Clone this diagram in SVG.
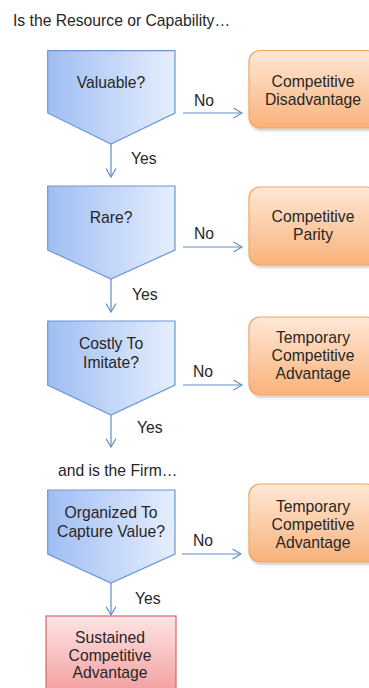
<svg xmlns="http://www.w3.org/2000/svg" width="369" height="688" viewBox="0 0 369 688">
<defs>
<linearGradient id="gBlue" x1="0" y1="0" x2="1" y2="0">
<stop offset="0" stop-color="#9fbef3"/>
<stop offset="1" stop-color="#e6eefd"/>
</linearGradient>
<linearGradient id="gOrange" x1="0" y1="0" x2="0" y2="1">
<stop offset="0" stop-color="#fee8d6"/>
<stop offset="1" stop-color="#f9b27a"/>
</linearGradient>
<linearGradient id="gRed" x1="0" y1="0" x2="0" y2="1">
<stop offset="0" stop-color="#fee4e4"/>
<stop offset="1" stop-color="#f39c9c"/>
</linearGradient>
<filter id="sh" x="-10%" y="-10%" width="130%" height="130%">
<feDropShadow dx="1.5" dy="2" stdDeviation="1.5" flood-color="#000" flood-opacity="0.22"/>
</filter>
<marker id="arr" viewBox="0 0 10 12" refX="9.5" refY="6" markerWidth="10" markerHeight="12" markerUnits="userSpaceOnUse" orient="auto">
<path d="M1,1 L9.5,6 L1,11" fill="none" stroke="#5f8bcb" stroke-width="1.2"/>
</marker>
</defs>
<style>
text{font-family:"Liberation Sans",Arial,sans-serif;font-size:15.7px;fill:#262626}
.c{text-anchor:middle}
.pent{fill:url(#gBlue);stroke:#6d97d4;stroke-width:1.2}
.ora{fill:url(#gOrange);stroke:#f2a560;stroke-width:1.2;filter:url(#sh)}
.red{fill:url(#gRed);stroke:#d8676b;stroke-width:1.2}
.ln{fill:none;stroke:#5f8bcb;stroke-width:1.2;marker-end:url(#arr)}
</style>
<text x="13" y="26">Is the Resource or Capability…</text>
<text x="58" y="476">and is the Firm…</text>
<g id="connectors">
<line class="ln" x1="111" y1="144" x2="111" y2="177"/>
<line class="ln" x1="183" y1="113" x2="242" y2="113"/>
<line class="ln" x1="111" y1="279" x2="111" y2="312"/>
<line class="ln" x1="183" y1="247" x2="242" y2="247"/>
<line class="ln" x1="111" y1="415" x2="111" y2="447"/>
<line class="ln" x1="183" y1="385" x2="242" y2="385"/>
<line class="ln" x1="111" y1="583" x2="111" y2="615"/>
<line class="ln" x1="182" y1="554" x2="241" y2="554"/>
<text x="194" y="106">No</text>
<text x="131" y="164">Yes</text>
<text x="194" y="239">No</text>
<text x="132" y="300">Yes</text>
<text x="193" y="377">No</text>
<text x="137" y="433">Yes</text>
<text x="193" y="546">No</text>
<text x="135" y="604">Yes</text>
</g>
<g id="valuable">
<path class="pent" d="M47.7,50.7 H175 V113 L111,144 L47.7,113 Z"/>
<text class="c" x="111" y="88">Valuable?</text>
</g>
<g id="disadvantage">
<rect class="ora" x="249" y="50.5" width="128" height="77.5" rx="11"/>
<text class="c" x="313" y="87">Competitive</text>
<text class="c" x="313" y="105">Disadvantage</text>
</g>
<g id="rare">
<path class="pent" d="M47.7,186 H175 V250 L111,279 L47.7,250 Z"/>
<text class="c" x="111" y="223">Rare?</text>
</g>
<g id="parity">
<rect class="ora" x="249" y="187" width="128" height="78" rx="11"/>
<text class="c" x="313" y="222">Competitive</text>
<text class="c" x="313" y="240">Parity</text>
</g>
<g id="costly">
<path class="pent" d="M47.7,321 H175 V385 L111,415 L47.7,385 Z"/>
<text class="c" x="111" y="349">Costly To</text>
<text class="c" x="111" y="368">Imitate?</text>
</g>
<g id="temporary1">
<rect class="ora" x="249" y="317" width="128" height="78" rx="11"/>
<text class="c" x="313" y="343">Temporary</text>
<text class="c" x="313" y="361">Competitive</text>
<text class="c" x="313" y="379">Advantage</text>
</g>
<g id="organized">
<path class="pent" d="M47.7,490 H175 V554 L111,583 L47.7,554 Z"/>
<text class="c" x="111" y="518">Organized To</text>
<text class="c" x="111" y="537">Capture Value?</text>
</g>
<g id="temporary2">
<rect class="ora" x="249" y="484" width="128" height="78" rx="11"/>
<text class="c" x="313" y="512">Temporary</text>
<text class="c" x="313" y="530">Competitive</text>
<text class="c" x="313" y="548">Advantage</text>
</g>
<g id="sustained">
<rect class="red" x="46" y="616" width="130" height="80"/>
<text class="c" x="110" y="643">Sustained</text>
<text class="c" x="110" y="661">Competitive</text>
<text class="c" x="110" y="678">Advantage</text>
</g>
</svg>
